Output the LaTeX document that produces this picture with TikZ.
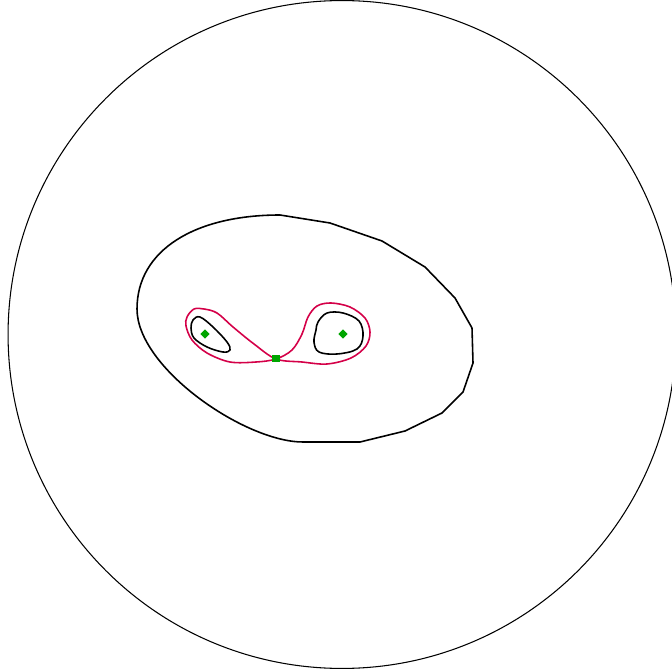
\documentclass[tikz,border=0pt]{standalone}
\usetikzlibrary{shapes.geometric}
\definecolor{sepred}{RGB}{212,0,72}
\definecolor{ptgreen}{RGB}{0,165,0}
\tikzset{
  thinline/.style={line width=0.6pt, black},
  curveline/.style={line width=0.9pt, black, line join=round},
  sepline/.style={line width=0.9pt, sepred, line join=round},
  centerpt/.style={diamond, fill=ptgreen, inner sep=0pt, minimum size=0.19cm},
  saddlept/.style={rectangle, fill=ptgreen, inner sep=0pt, minimum size=0.16cm}
}
\begin{document}
\begin{tikzpicture}[x=0.02cm,y=-0.02cm]
\useasboundingbox (0,0) rectangle (671,671);
% outer circle
\draw[thinline] (342,334.5) circle[radius=6.68cm];
% large oval
\draw[curveline] (303,442) .. controls (245,442) and (137,368) .. (137,309)
  .. controls (137,250) and (195,215) .. (280,215)
  -- (330,223) -- (382,241) -- (425,267) -- (455,298) -- (472,328) -- (473,363) -- (463,392) -- (442,413) -- (405,431) -- (360,442) -- cycle;
% left small loop
\draw[curveline] plot[smooth cycle, tension=0.6] coordinates {(193,320) (200,317) (213,327) (227,342) (230,350) (223,352) (207,347) (194,338) (191,328)};
% right loop
\draw[curveline] plot[smooth cycle, tension=0.6] coordinates {(318,322) (327,313) (343,313) (359,321) (363,336) (357,349) (337,354) (319,352) (314,342) (316,330)};
% separatrix figure eight
\draw[sepline] plot[smooth cycle, tension=0.55] coordinates {(276,359) (292,350) (302,334) (308,317) (317,306) (331,303) (350,307) (365,318) (370,332) (366,346) (351,358) (327,364) (302,362)
  (276,359) (254,344) (233,327) (217,313) (204,309) (194,309) (187,317) (186,326) (192,340) (207,353) (230,362) (256,362)};
% equilibrium points
\node[centerpt] (c1) at (205,334) {};
\node[centerpt] (c2) at (343,334) {};
\node[saddlept] (s) at (276,358.5) {};
\end{tikzpicture}
\end{document}
